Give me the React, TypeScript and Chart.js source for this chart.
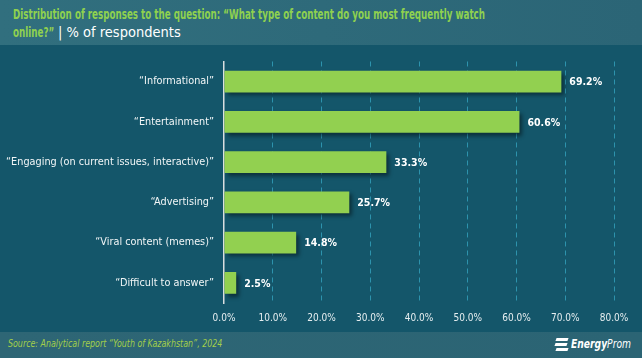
import React, { useEffect, useRef } from "react";
import { Chart, registerables } from "chart.js";

Chart.register(...registerables);

const categories = [
  "“Informational”",
  "“Entertainment”",
  "“Engaging (on current issues, interactive)”",
  "“Advertising”",
  "“Viral content (memes)”",
  "“Difficult to answer”",
];
const values = [69.2, 60.6, 33.3, 25.7, 14.8, 2.5];
const axisMin = 0;
const axisMax = 80;
const axisStep = 10;

const FONT = "'DejaVu Sans Condensed', 'DejaVu Sans', sans-serif";

const shadowPlugin = {
  id: "barShadow",
  beforeDatasetDraw(chart: any) {
    const ctx = chart.ctx;
    ctx.save();
    ctx.shadowColor = "rgba(0,0,0,0.45)";
    ctx.shadowBlur = 4;
    ctx.shadowOffsetX = 3;
    ctx.shadowOffsetY = 3;
  },
  afterDatasetDraw(chart: any) {
    chart.ctx.restore();
  },
};

const labelPlugin = {
  id: "valueLabels",
  afterDatasetsDraw(chart: any) {
    const ctx = chart.ctx;
    const meta = chart.getDatasetMeta(0);
    ctx.save();
    ctx.font = `bold 10.5px ${FONT}`;
    ctx.fillStyle = "#ffffff";
    ctx.textAlign = "left";
    ctx.textBaseline = "middle";
    meta.data.forEach((bar: any, i: number) => {
      ctx.fillText(values[i].toFixed(1) + "%", bar.x + 8, bar.y + 1);
    });
    ctx.restore();
  },
};

export default function App() {
  const ref = useRef<HTMLCanvasElement>(null);
  useEffect(() => {
    document.body.style.margin = "0";
    const chart = new Chart(ref.current!, {
      type: "bar",
      data: {
        labels: categories,
        datasets: [
          {
            data: values,
            backgroundColor: "#92d050",
            borderWidth: 0,
            barPercentage: 0.54,
            categoryPercentage: 1,
          },
        ],
      },
      options: {
        indexAxis: "y",
        animation: false,
        responsive: false,
        maintainAspectRatio: false,
        layout: { padding: { top: 14, right: 28, left: 0, bottom: 0 } },
        plugins: { legend: { display: false }, tooltip: { enabled: false } },
        scales: {
          x: {
            min: axisMin,
            max: axisMax,
            ticks: {
              stepSize: axisStep,
              color: "#e6eef0",
              font: { family: FONT, size: 10 },
              padding: 9,
              callback: (v: any) => Number(v).toFixed(1) + "%",
            },
            grid: {
              color: (c: any) => (c.index === 0 ? "rgba(0,0,0,0)" : "#2d93ad"),
              drawTicks: false,
            },
            border: { display: false, dash: [5, 4] },
            afterFit: (s: any) => {
              s.height = 29;
            },
          },
          y: {
            ticks: {
              color: "#f2f6f7",
              font: { family: FONT, size: 10.8 },
              padding: 10,
            },
            grid: { display: false, drawTicks: false },
            border: { display: true, color: "#d9dedf", width: 1.5 },
            afterFit: (s: any) => {
              s.width = 224;
            },
          },
        },
      },
      plugins: [shadowPlugin, labelPlugin],
    });
    return () => chart.destroy();
  }, []);

  const titleStyle: React.CSSProperties = {
    position: "absolute",
    fontSize: 13.5,
    lineHeight: "18px",
    color: "#8fd14f",
    fontWeight: "bold",
    whiteSpace: "nowrap",
    transform: "scaleX(0.72)",
    transformOrigin: "left top",
  };

  return (
    <div
      style={{
        width: 642,
        height: 358,
        position: "relative",
        background: "#14566a",
        overflow: "hidden",
        fontFamily: FONT,
      }}
    >
      <div
        style={{
          position: "absolute",
          left: 0,
          top: 0,
          width: 642,
          height: 45,
          background: "linear-gradient(90deg, #316f7e 0%, #2b6576 100%)",
        }}
      >
        <div style={{ ...titleStyle, left: 13, top: 5 }}>
          Distribution of responses to the question: “What type of content do you most frequently watch
        </div>
        <div style={{ ...titleStyle, left: 13, top: 23 }}>online?”</div>
        <div
          style={{
            position: "absolute",
            left: 58,
            top: 23,
            fontSize: 14.5,
            lineHeight: "18px",
            color: "#ffffff",
            whiteSpace: "nowrap",
          }}
        >
          | % of respondents
        </div>
      </div>
      <canvas
        ref={ref}
        width={642}
        height={287}
        style={{ position: "absolute", left: 0, top: 45, width: 642, height: 287 }}
      />
      <div
        style={{
          position: "absolute",
          left: 0,
          top: 332,
          width: 642,
          height: 26,
          background: "linear-gradient(90deg, #2e6675 0%, #2b6474 100%)",
        }}
      >
        <div
          style={{
            position: "absolute",
            left: 8,
            top: 5,
            fontSize: 11,
            fontStyle: "italic",
            color: "#a3cf4a",
            whiteSpace: "nowrap",
            transform: "scaleX(0.8)",
            transformOrigin: "left top",
          }}
        >
          Source: Analytical report “Youth of Kazakhstan”, 2024
        </div>
        <div style={{ position: "absolute", left: 554, top: 5, width: 84, height: 20 }}>
          <div style={{ position: "absolute", left: 0, top: 1 }}>
            {[0, 5, 10].map((t) => (
              <div
                key={t}
                style={{
                  position: "absolute",
                  left: t === 5 ? 1 : 2,
                  top: t,
                  width: 12,
                  height: 3,
                  background: "#ffffff",
                  transform: "skewX(-20deg)",
                }}
              />
            ))}
          </div>
          <div
            style={{
              position: "absolute",
              left: 17,
              top: 0,
              fontSize: 12,
              fontStyle: "italic",
              color: "#ffffff",
              whiteSpace: "nowrap",
              transform: "scaleX(0.85)",
              transformOrigin: "left top",
            }}
          >
            <b>Energy</b>Prom
          </div>
        </div>
      </div>
    </div>
  );
}
